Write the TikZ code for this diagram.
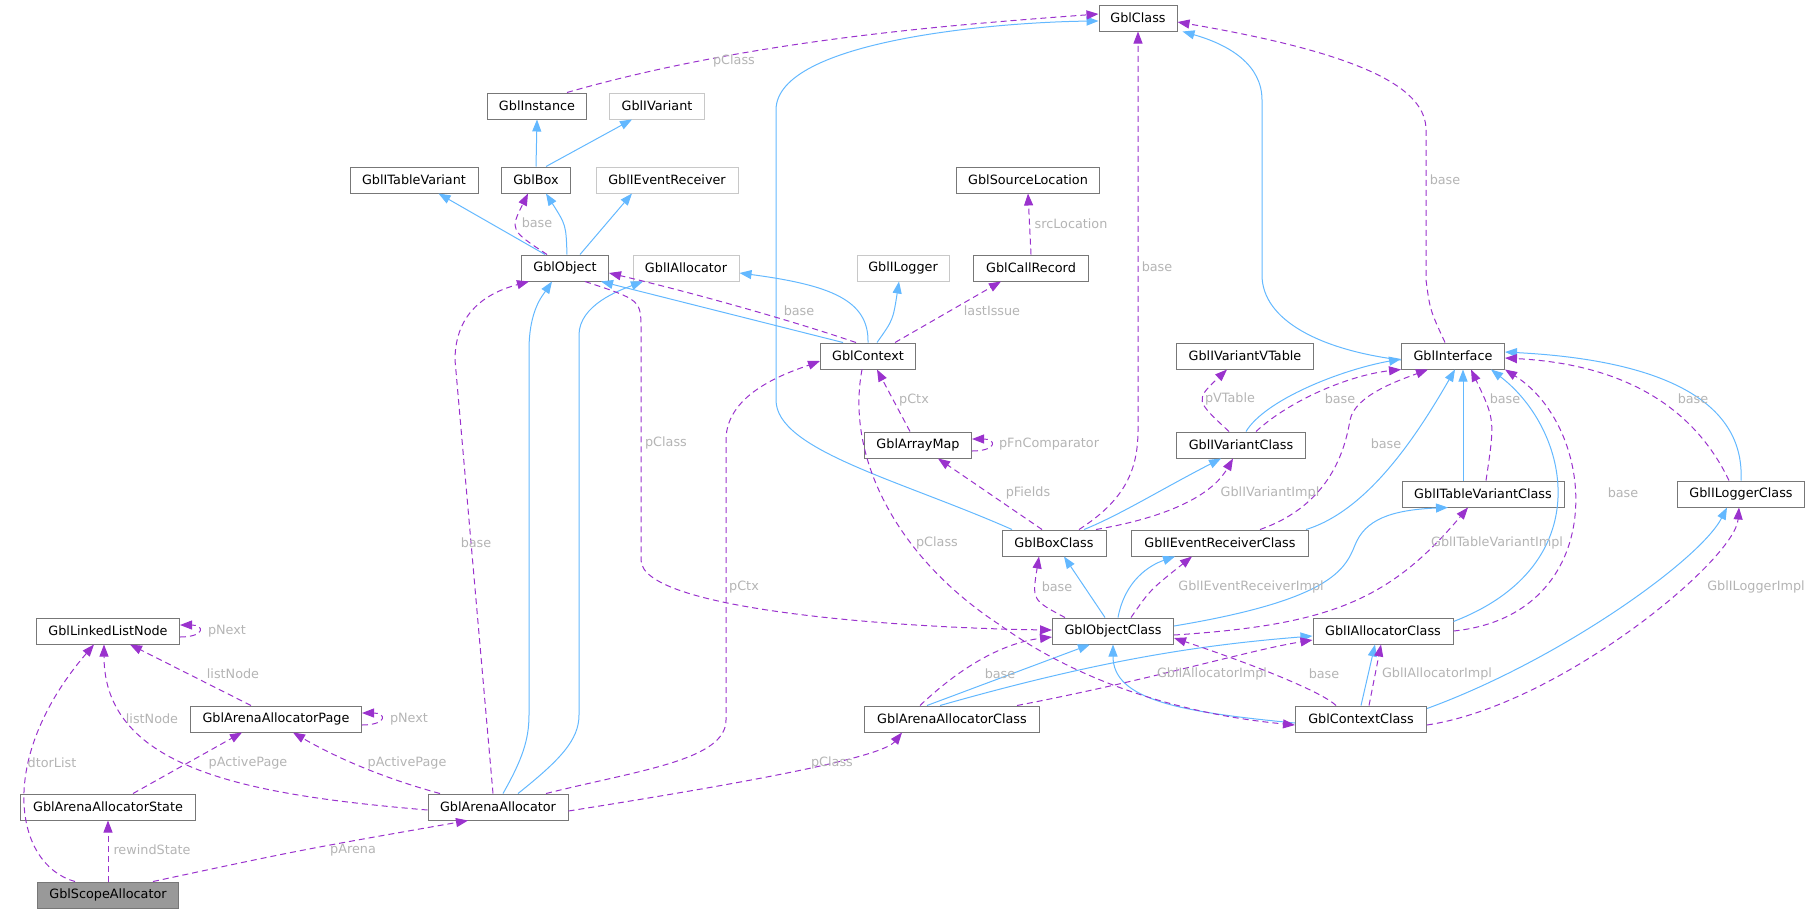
\documentclass[tikz,border=0pt]{standalone}
\usepackage{fontspec}
\setmainfont{DejaVu Sans}
\usetikzlibrary{arrows.meta}
\definecolor{inhblue}{HTML}{63B8FF}
\definecolor{usepurple}{HTML}{9A32CD}
\definecolor{lblgray}{HTML}{B4B4B4}
\definecolor{boxgray}{HTML}{777777}
\definecolor{extgray}{HTML}{C8C8C8}
\definecolor{selfgray}{HTML}{999999}
\tikzset{
  cls/.style={draw=boxgray, fill=white, line width=1pt, minimum height=26pt, inner sep=0pt, font=\fontsize{12.8}{14}\selectfont},
  ext/.style={cls, draw=extgray},
  inh/.style={draw=inhblue, line width=1pt, -{Triangle[length=12pt,width=9pt]}},
  use/.style={draw=usepurple, line width=1pt, dash pattern=on 6pt off 4pt, -{Triangle[length=12pt,width=9pt]}},
  lbl/.style={text=lblgray, inner sep=1pt, font=\fontsize{12.8}{14}\selectfont},
}
\begin{document}
\begin{tikzpicture}[x=1pt, y=-1pt]
\useasboundingbox (0,0) rectangle (1814,913);
% classes
\node[cls, minimum width=78pt] (GblClass) at (1138,18) {GblClass};
\node[cls, minimum width=99pt] (GblInstance) at (537,106) {GblInstance};
\node[ext, minimum width=95pt] (GblIVariant) at (657,106) {GblIVariant};
\node[cls, minimum width=128pt] (GblITableVariant) at (414,180) {GblITableVariant};
\node[cls, minimum width=69pt] (GblBox) at (536,180) {GblBox};
\node[ext, minimum width=142pt] (GblIEventReceiver) at (667,180) {GblIEventReceiver};
\node[cls, minimum width=143pt] (GblSourceLocation) at (1028,180) {GblSourceLocation};
\node[cls, minimum width=87pt] (GblObject) at (565,268) {GblObject};
\node[ext, minimum width=106pt] (GblIAllocator) at (686,268) {GblIAllocator};
\node[ext, minimum width=92pt] (GblILogger) at (903,268) {GblILogger};
\node[cls, minimum width=115pt] (GblCallRecord) at (1031,268) {GblCallRecord};
\node[cls, minimum width=95pt] (GblContext) at (868,356) {GblContext};
\node[cls, minimum width=103pt] (GblInterface) at (1453,356) {GblInterface};
\node[cls, minimum width=137pt] (GblIVariantVTable) at (1245,356) {GblIVariantVTable};
\node[cls, minimum width=107pt] (GblArrayMap) at (918,445) {GblArrayMap};
\node[cls, minimum width=129pt] (GblIVariantClass) at (1241,445) {GblIVariantClass};
\node[cls, minimum width=162pt] (GblITableVariantClass) at (1483,494) {GblITableVariantClass};
\node[cls, minimum width=127pt] (GblILoggerClass) at (1741,494) {GblILoggerClass};
\node[cls, minimum width=104pt] (GblBoxClass) at (1054,543) {GblBoxClass};
\node[cls, minimum width=177pt] (GblIEventReceiverClass) at (1220,543) {GblIEventReceiverClass};
\node[cls, minimum width=143pt] (GblLinkedListNode) at (108,631) {GblLinkedListNode};
\node[cls, minimum width=121pt] (GblObjectClass) at (1113,631) {GblObjectClass};
\node[cls, minimum width=140pt] (GblIAllocatorClass) at (1383,631) {GblIAllocatorClass};
\node[cls, minimum width=171pt] (GblArenaAllocatorPage) at (276,719) {GblArenaAllocatorPage};
\node[cls, minimum width=175pt] (GblArenaAllocatorClass) at (952,719) {GblArenaAllocatorClass};
\node[cls, minimum width=131pt] (GblContextClass) at (1361,719) {GblContextClass};
\node[cls, minimum width=175pt] (GblArenaAllocatorState) at (108,807) {GblArenaAllocatorState};
\node[cls, minimum width=140pt] (GblArenaAllocator) at (498,807) {GblArenaAllocator};
\node[cls, fill=selfgray, minimum width=141pt] (GblScopeAllocator) at (108,895) {GblScopeAllocator};
% inheritance
\draw[inh] (GblBox.north) -- (GblInstance.south);
\draw[inh] ([xshift=10]GblBox.north) -- ([xshift=-25]GblIVariant.south);
\draw[inh] ([xshift=-20]GblObject.north) -- ([xshift=-40]GblITableVariant.south east);
\draw[inh] ([xshift=2]GblObject.north) .. controls (566,225) .. ([xshift=10]GblBox.south);
\draw[inh] ([xshift=15]GblObject.north) -- ([xshift=-35]GblIEventReceiver.south);
\draw[inh] ([xshift=-25]GblContext.north) -- ([xshift=-8]GblObject.south east);
\draw[inh] (GblContext.north) .. controls (869,300) and (830,285) .. ([yshift=-5]GblIAllocator.east);
\draw[inh] ([xshift=9]GblContext.north) .. controls (893,320) .. ([xshift=-4]GblILogger.south);
\draw[inh] ([xshift=5]GblArenaAllocator.north) .. controls (522,760) and (529,740) .. (529,715) -- (529,350) .. controls (529,310) and (543,295) .. ([xshift=-13]GblObject.south);
\draw[inh] ([xshift=20]GblArenaAllocator.north) .. controls (560,760) and (579,740) .. (579,715) -- (579,335) .. controls (579,305) and (620,290) .. ([xshift=-43]GblIAllocator.south);
\draw[inh] ([xshift=-42]GblBoxClass.north) .. controls (900,480) and (776,450) .. (776,400) -- (776,110) .. controls (776,40) and (1000,22) .. ([yshift=-3]GblClass.west);
\draw[inh] ([yshift=-4]GblInterface.west) .. controls (1320,350) and (1262,320) .. (1262,275) -- (1262,100) .. controls (1262,65) and (1230,45) .. ([xshift=5]GblClass.south east);
\draw[inh] ([xshift=5]GblIVariantClass.north) .. controls (1265,400) and (1340,370) .. ([yshift=-3]GblInterface.west);
\draw[inh] ([xshift=-20]GblITableVariantClass.north) -- ([xshift=10]GblInterface.south);
\draw[inh] ([xshift=-3]GblIEventReceiverClass.north east) .. controls (1370,510) and (1420,430) .. ([xshift=2]GblInterface.south);
\draw[inh] (GblILoggerClass.north) .. controls (1745,400) and (1660,360) .. ([yshift=4]GblInterface.east);
\draw[inh] ([yshift=-4]GblIAllocatorClass.north east) .. controls (1600,565) and (1570,430) .. ([xshift=38]GblInterface.south);
\draw[inh] ([xshift=30]GblBoxClass.north) .. controls (1120,515) and (1160,490) .. ([xshift=-20]GblIVariantClass.south);
\draw[inh] ([xshift=-8]GblObjectClass.north) -- ([xshift=10]GblBoxClass.south);
\draw[inh] ([xshift=5]GblObjectClass.north) .. controls (1125,580) and (1150,565) .. ([xshift=-45]GblIEventReceiverClass.south);
\draw[inh] ([yshift=5]GblObjectClass.east) .. controls (1330,600) and (1345,570) .. (1355,545) .. controls (1365,520) and (1390,510) .. ([xshift=-35]GblITableVariantClass.south);
\draw[inh] ([xshift=-25]GblArenaAllocatorClass.north) -- ([xshift=-23]GblObjectClass.south);
\draw[inh] ([xshift=-12]GblArenaAllocatorClass.north) .. controls (1100,660) and (1200,645) .. ([yshift=-5]GblIAllocatorClass.west);
\draw[inh] ([yshift=-4]GblContextClass.west) .. controls (1180,712) and (1113,700) .. ([xshift=0]GblObjectClass.south);
\draw[inh] ([xshift=0]GblContextClass.north) -- ([xshift=-8]GblIAllocatorClass.south);
\draw[inh] ([yshift=-3]GblContextClass.north east) .. controls (1560,660) and (1700,560) .. ([xshift=-14]GblILoggerClass.south);
% members
\draw[use] ([xshift=30]GblInstance.north) .. controls (750,40) and (950,25) .. ([yshift=4]GblClass.west);
\node[lbl] (lpclassa) at (734,61) {pClass};
\draw[use] ([xshift=-18]GblObject.north) .. controls (510,230) .. ([xshift=-8]GblBox.south);
\node[lbl] (lbaseb) at (537,223) {base};
\draw[use] ([xshift=-12]GblContext.north) .. controls (790,320) and (690,292) .. ([yshift=-5]GblObject.east);
\node[lbl] (lbasec) at (799,311) {base};
\draw[use] ([xshift=27]GblContext.north) -- ([xshift=-30]GblCallRecord.south);
\node[lbl] (llast) at (992,311) {lastIssue};
\draw[use] (GblCallRecord.north) -- (GblSourceLocation.south);
\node[lbl] (lsrc) at (1071,224) {srcLocation};
\draw[use] ([xshift=20]GblObject.south) .. controls (641,300) .. (641,330) -- (641,560) .. controls (641,610) and (900,628) .. ([yshift=1]GblObjectClass.west);
\node[lbl] (lpclassf) at (666,443) {pClass};
\draw[use] ([xshift=-5]GblArenaAllocator.north) -- (455,360) .. controls (455,310) and (490,292) .. ([xshift=-36]GblObject.south);
\node[lbl] (lbaseg) at (476,543) {base};
\draw[use] ([xshift=48]GblArenaAllocator.north) .. controls (640,770) and (726,760) .. (726,720) -- (726,440) .. controls (726,392) and (790,372) .. ([yshift=-5]GblContext.west);
\node[lbl] (lpctxh) at (744,587) {pCtx};
\draw[use] ([xshift=-8]GblArrayMap.north) -- ([xshift=9]GblContext.south);
\node[lbl] (lpctxi) at (914,400) {pCtx};
\draw[use] ([yshift=-6]GblArrayMap.east) .. controls +(25,0) and +(25,0) .. ([yshift=6]GblArrayMap.east);
\node[lbl] (lcmp) at (1049,444) {pFnComparator};
\draw[use] ([xshift=-6]GblContext.south) .. controls (845,460) and (900,560) .. (1000,625) .. controls (1090,690) and (1200,716) .. ([yshift=-6]GblContextClass.west);
\node[lbl] (lpclassk) at (937,543) {pClass};
\draw[use] ([xshift=25]GblBoxClass.north) .. controls (1125,500) and (1138,470) .. (1138,430) -- (GblClass.south);
\node[lbl] (lbasel) at (1157,267) {base};
\draw[use] ([xshift=-12]GblBoxClass.north) -- ([xshift=20]GblArrayMap.south);
\node[lbl] (lfields) at (1028,493) {pFields};
\draw[use] ([xshift=42]GblBoxClass.north) .. controls (1180,515) and (1215,490) .. ([xshift=-8]GblIVariantClass.south);
\node[lbl] (lvimpl) at (1270,493) {GblIVariantImpl};
\draw[use] ([xshift=-12]GblIVariantClass.north) .. controls (1195,400) .. ([xshift=-18]GblIVariantVTable.south);
\node[lbl] (lvtable) at (1230,399) {pVTable};
\draw[use] ([xshift=15]GblIVariantClass.north) .. controls (1290,400) and (1350,375) .. (GblInterface.south west);
\node[lbl] (lbasep) at (1340,399) {base};
\draw[use] ([xshift=40]GblIEventReceiverClass.north) .. controls (1330,505) and (1345,450) .. (1350,420) .. controls (1355,395) and (1400,380) .. ([xshift=-25]GblInterface.south);
\node[lbl] (lbaseq) at (1386,444) {base};
\draw[use] ([xshift=3]GblITableVariantClass.north) .. controls (1495,420) .. ([xshift=18]GblInterface.south);
\node[lbl] (lbaser) at (1505,399) {base};
\draw[use] (GblIAllocatorClass.east) .. controls (1610,615) and (1600,430) .. (GblInterface.south east);
\node[lbl] (lbases) at (1623,493) {base};
\draw[use] ([xshift=-12]GblILoggerClass.north) .. controls (1700,420) and (1640,365) .. ([yshift=-2]GblInterface.east);
\node[lbl] (lbaset) at (1693,399) {base};
\draw[use] ([xshift=-8]GblInterface.north) .. controls (1430,310) .. (1426,280) -- (1426,130) .. controls (1426,90) and (1370,55) .. ([yshift=-4]GblClass.east);
\node[lbl] (lbaseu) at (1445,180) {base};
\draw[use] ([xshift=-48]GblObjectClass.north) .. controls (1032,600) .. ([xshift=-15]GblBoxClass.south);
\node[lbl] (lbasev) at (1057,587) {base};
\draw[use] ([xshift=18]GblObjectClass.north) .. controls (1150,590) .. ([xshift=-28]GblIEventReceiverClass.south);
\node[lbl] (levimpl) at (1251,587) {GblIEventReceiverImpl};
\draw[use] ([yshift=-4]GblObjectClass.east) .. controls (1330,625) and (1390,600) .. ([xshift=-15]GblITableVariantClass.south);
\node[lbl] (ltvimpl) at (1497,543) {GblITableVariantImpl};
\draw[use] ([xshift=-32]GblArenaAllocatorClass.north) .. controls (968,660) and (1010,642) .. ([yshift=-6]GblObjectClass.west);
\node[lbl] (lbasey) at (1000,674) {base};
\draw[use] ([xshift=65]GblArenaAllocatorClass.north) .. controls (1150,680) and (1250,650) .. ([yshift=-9]GblIAllocatorClass.west);
\node[lbl] (laimplz) at (1212,674) {GblIAllocatorImpl};
\draw[use] ([xshift=-25]GblContextClass.north) .. controls (1320,690) and (1240,660) .. ([yshift=-7]GblObjectClass.east);
\node[lbl] (lbaseaa) at (1324,674) {base};
\draw[use] ([xshift=8]GblContextClass.north) -- ([xshift=-2]GblIAllocatorClass.south);
\node[lbl] (laimplbb) at (1437,674) {GblIAllocatorImpl};
\draw[use] ([yshift=-6]GblContextClass.east) .. controls (1560,705) and (1735,560) .. ([xshift=-2]GblILoggerClass.south);
\node[lbl] (llimpl) at (1756,587) {GblILoggerImpl};
\draw[use] ([yshift=-4]GblArenaAllocator.east) .. controls (700,790) and (880,760) .. ([xshift=-50]GblArenaAllocatorClass.south);
\node[lbl] (lpclassdd) at (832,763) {pClass};
\draw[use] ([xshift=-58]GblArenaAllocator.north) .. controls (390,780) and (340,760) .. ([xshift=17]GblArenaAllocatorPage.south);
\node[lbl] (lpagee) at (407,763) {pActivePage};
\draw[use] ([yshift=-3]GblArenaAllocator.west) .. controls (250,795) and (104,770) .. ([xshift=-4]GblLinkedListNode.south);
\node[lbl] (llistf) at (152,719) {listNode};
\draw[use] ([xshift=-25]GblArenaAllocatorPage.north) -- ([xshift=22]GblLinkedListNode.south);
\node[lbl] (llistg) at (233,674) {listNode};
\draw[use] ([yshift=-6]GblArenaAllocatorPage.east) .. controls +(25,0) and +(25,0) .. ([yshift=6]GblArenaAllocatorPage.east);
\node[lbl] (lnexth) at (409,719) {pNext};
\draw[use] ([yshift=-6]GblLinkedListNode.east) .. controls +(25,0) and +(25,0) .. ([yshift=6]GblLinkedListNode.east);
\node[lbl] (lnexti) at (227,631) {pNext};
\draw[use] ([xshift=25]GblArenaAllocatorState.north) -- ([xshift=-34]GblArenaAllocatorPage.south);
\node[lbl] (lpagej) at (248,763) {pActivePage};
\draw[use] (GblScopeAllocator.north) -- (GblArenaAllocatorState.south);
\node[lbl] (lrewind) at (152,850) {rewindState};
\draw[use] ([xshift=45]GblScopeAllocator.north) .. controls (300,850) .. ([xshift=-30]GblArenaAllocator.south);
\node[lbl] (larena) at (353,850) {pArena};
\draw[use] ([xshift=-33]GblScopeAllocator.north) .. controls (15,865) and (-5,760) .. ([xshift=-14]GblLinkedListNode.south);
\node[lbl] (ldtor) at (52,763) {dtorList};
\end{tikzpicture}
\end{document}
